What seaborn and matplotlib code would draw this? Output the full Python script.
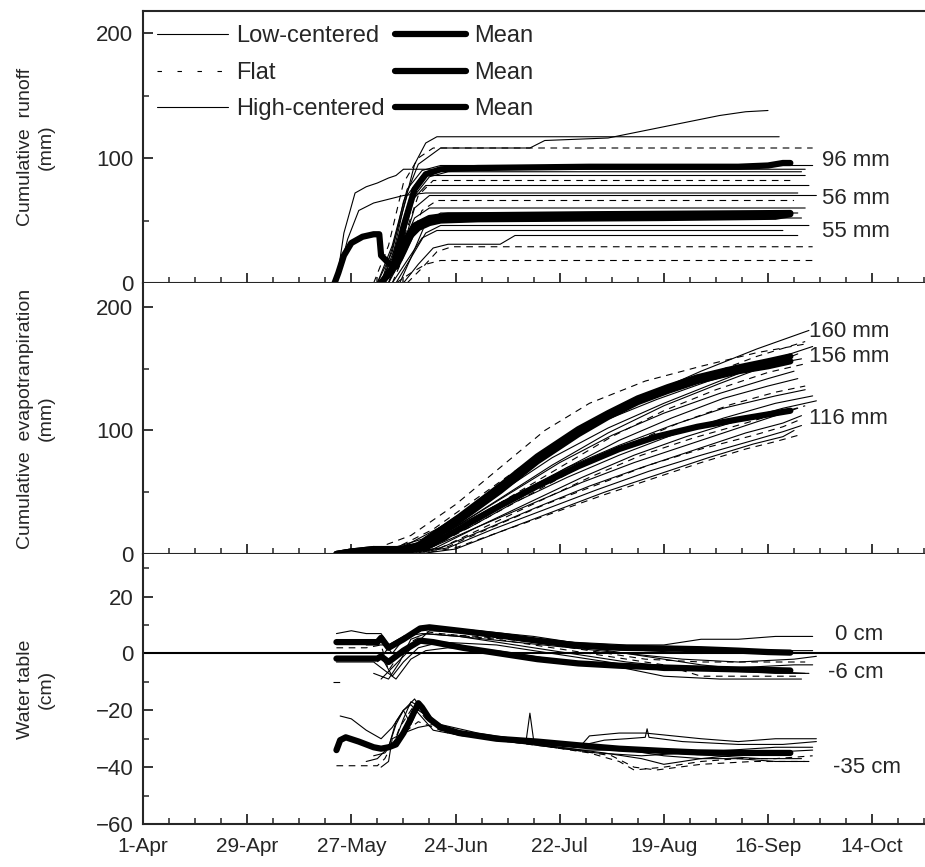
import pandas as pd
import matplotlib
matplotlib.use("Agg")
import matplotlib.pyplot as plt
from matplotlib.lines import Line2D
from matplotlib.ticker import MultipleLocator
import seaborn as sns

# days counted from 1-Apr
date_ticks = [0, 28, 56, 84, 112, 140, 168, 196]
date_labels = ["1-Apr", "29-Apr", "27-May", "24-Jun", "22-Jul", "19-Aug", "16-Sep", "14-Oct"]

# ---- cumulative runoff (mm), one entry per site
runoff_type = ["Low-centered", "High-centered", "Low-centered", "High-centered", "Flat",
               "Low-centered", "High-centered", "Flat", "Low-centered", "High-centered",
               "Flat", "Low-centered", "High-centered", "Low-centered", "High-centered",
               "Flat", "Flat", "Low-centered", "High-centered", "Low-centered"]
runoff_days = [
    [52, 54, 57, 60, 63, 66, 68, 70, 178],
    [52, 55, 58, 62, 66, 70, 76, 176],
    [64, 67, 70, 73, 76, 79, 171],
    [63, 67, 70, 74, 80, 104, 108, 125, 135, 145, 155, 162, 168],
    [62, 66, 70, 74, 78, 180],
    [63, 67, 71, 75, 80, 180],
    [65, 69, 73, 77, 82, 177],
    [66, 70, 74, 78, 174],
    [64, 68, 72, 76, 179],
    [66, 70, 73, 77, 181],
    [67, 71, 75, 79, 175],
    [65, 69, 73, 77, 178],
    [66, 70, 74, 78, 177],
    [68, 72, 76, 80, 179],
    [70, 74, 78, 82, 96, 100, 176],
    [71, 75, 79, 83, 180],
    [68, 72, 76, 80, 181],
    [67, 71, 75, 79, 172],
    [69, 72, 76, 80, 176],
    [64, 67, 71, 75, 178],
]
runoff_vals = [
    [0, 40, 72, 77, 80, 84, 86, 91, 91],
    [0, 35, 58, 64, 67, 70, 72, 72],
    [0, 20, 60, 95, 112, 117, 117],
    [0, 25, 65, 95, 108, 108, 114, 116, 122, 128, 134, 137, 138],
    [0, 30, 80, 100, 108, 108],
    [0, 30, 75, 90, 94, 94],
    [0, 25, 70, 85, 89, 89],
    [0, 35, 70, 82, 82],
    [0, 30, 65, 78, 78],
    [0, 30, 60, 70, 70],
    [0, 28, 58, 66, 66],
    [0, 25, 52, 60, 60],
    [0, 22, 45, 52, 52],
    [0, 20, 40, 46, 46],
    [0, 15, 28, 31, 31, 38, 38],
    [0, 12, 25, 29, 29],
    [0, 8, 15, 18, 18],
    [0, 18, 36, 42, 42],
    [0, 20, 48, 56, 56],
    [0, 28, 70, 86, 86],
]
runoff_mean_days = [
    [64, 67, 70, 73, 76, 80, 90, 120, 160, 168, 172, 174],
    [64, 67, 70, 73, 77, 82, 120, 174],
    [51.5, 52.5, 54, 56, 59, 62, 63.5, 64, 66, 68, 70, 72, 74, 77, 80, 90, 140, 170, 174],
]
runoff_mean_vals = [
    [0, 10, 45, 75, 87, 91, 92, 93, 93, 94, 96, 96],
    [0, 12, 32, 46, 52, 54, 55, 56],
    [0, 8, 22, 32, 37, 39, 39, 22, 16, 13, 25, 38, 44, 48, 50, 51, 52, 53, 55],
]
runoff_labels = ["96 mm", "56 mm", "55 mm"]

# ---- cumulative evapotranspiration (mm)
et_type = ["Low-centered", "Flat", "High-centered", "Low-centered", "High-centered",
           "Flat", "Low-centered", "High-centered", "Flat", "Flat",
           "Low-centered", "High-centered", "Flat", "Low-centered", "High-centered",
           "Flat", "Low-centered", "High-centered", "Flat", "Low-centered"]
et_days = [
    [58, 65, 75, 90, 105, 120, 135, 150, 165, 179],
    [60, 68, 78, 92, 106, 120, 135, 150, 165, 178],
    [62, 70, 80, 95, 110, 125, 140, 155, 170, 180],
    [64, 72, 82, 96, 110, 125, 140, 155, 170, 176],
    [60, 70, 82, 96, 110, 124, 138, 152, 166, 177],
    [66, 74, 84, 98, 112, 126, 140, 154, 168, 178],
    [64, 72, 84, 98, 112, 126, 140, 155, 168, 175],
    [66, 75, 86, 100, 114, 128, 142, 156, 168, 176],
    [68, 76, 88, 102, 116, 130, 144, 158, 170, 178],
    [56, 64, 72, 84, 96, 108, 120, 135, 150, 165, 178],
    [66, 76, 88, 100, 114, 128, 142, 156, 170, 180],
    [68, 78, 90, 104, 118, 132, 146, 160, 172, 181],
    [70, 80, 92, 106, 120, 134, 148, 162, 172, 178],
    [68, 78, 90, 104, 118, 132, 146, 160, 170, 176],
    [70, 80, 92, 106, 120, 134, 148, 162, 172, 177],
    [72, 82, 94, 108, 122, 136, 150, 164, 172, 176],
    [72, 82, 94, 108, 122, 136, 150, 164, 172, 177],
    [74, 84, 96, 110, 124, 138, 152, 164, 172, 175],
    [74, 84, 96, 110, 124, 138, 150, 162, 170, 176],
    [64, 74, 86, 100, 114, 128, 142, 156, 170, 178],
]
et_vals = [
    [0, 3, 12, 42, 75, 104, 128, 148, 166, 181],
    [0, 5, 20, 50, 80, 105, 126, 143, 160, 172],
    [0, 4, 18, 48, 78, 102, 122, 140, 158, 168],
    [0, 3, 18, 45, 72, 98, 120, 138, 155, 162],
    [0, 6, 25, 55, 85, 108, 125, 140, 152, 158],
    [0, 4, 20, 45, 70, 95, 116, 133, 147, 154],
    [0, 3, 22, 48, 74, 96, 114, 130, 142, 148],
    [0, 4, 22, 46, 70, 92, 110, 126, 136, 142],
    [0, 3, 22, 45, 68, 88, 106, 121, 131, 136],
    [0, 6, 15, 40, 70, 100, 122, 140, 152, 163, 170],
    [0, 5, 22, 42, 62, 80, 96, 110, 122, 128],
    [0, 4, 22, 42, 62, 80, 95, 108, 118, 124],
    [0, 5, 22, 42, 62, 80, 94, 106, 115, 120],
    [0, 6, 22, 40, 58, 74, 88, 102, 112, 118],
    [0, 5, 20, 38, 55, 70, 84, 98, 106, 112],
    [0, 6, 22, 40, 56, 72, 85, 96, 103, 108],
    [0, 5, 20, 36, 52, 67, 80, 92, 99, 104],
    [0, 4, 18, 34, 50, 64, 78, 89, 95, 100],
    [0, 5, 18, 33, 48, 62, 74, 85, 91, 96],
    [0, 6, 25, 48, 70, 88, 104, 118, 128, 133],
]
et_mean_days = [
    [52, 56, 62, 66, 69, 74, 85, 96, 106, 117, 125, 133, 141, 149, 160, 168, 174],
    [52, 56, 62, 66, 69, 74, 85, 96, 106, 117, 125, 133, 141, 149, 160, 168, 174],
    [52, 56, 62, 66, 70, 76, 86, 96, 106, 117, 128, 138, 149, 160, 168, 174],
]
et_mean_vals = [
    [0, 2, 4, 4, 4, 7, 30, 55, 79, 101, 114, 126, 135, 143, 151, 156, 160],
    [0, 2, 4, 3, 3, 5, 27, 51, 75, 97, 111, 123, 132, 140, 148, 152, 156],
    [0, 2, 3, 3, 3, 5, 22, 39, 55, 71, 85, 95, 103, 109, 113, 116],
]
et_labels = ["160 mm", "156 mm", "116 mm"]

# ---- water table (cm)
wt_type = ["Low-centered", "High-centered", "Flat", "Low-centered", "High-centered",
           "Flat", "Low-centered", "High-centered", "Flat", "Low-centered",
           "High-centered", "Flat", "Low-centered", "High-centered", "Flat",
           "Low-centered", "High-centered", "High-centered"]
wt_days = [
    [52, 56, 60, 64, 66, 70, 74, 80, 90, 100, 115, 130, 140, 150, 160, 170, 180],
    [52, 60, 64, 67, 70, 74, 78, 90, 105, 120, 135, 150, 165, 180],
    [52, 60, 64, 66, 68, 72, 76, 90, 105, 120, 135, 150, 165, 178],
    [52, 60, 64, 67, 70, 74, 80, 95, 110, 125, 140, 155, 170, 179],
    [52, 62, 65, 68, 72, 76, 82, 95, 110, 125, 140, 155, 170, 177],
    [51, 53],
    [62, 66, 69, 72, 76, 85, 100, 115, 130, 145, 160, 175, 180],
    [64, 67, 70, 73, 77, 90, 105, 120, 135, 150, 165, 178],
    [63, 66, 70, 74, 80, 95, 110, 125, 140, 150, 160, 176],
    [60, 66, 70, 75, 85, 100, 115, 130, 145, 160, 175, 181],
    [53, 56, 60, 64, 67, 70, 73, 76, 80, 88, 96, 103, 104, 105, 112, 119, 124, 130,
     135, 135.5, 136, 145, 160, 172, 181],
    [52, 57, 63, 65, 67, 69, 71, 74, 80, 90, 100, 110, 120, 128, 132, 140, 150, 160, 170, 180],
    [60, 63, 66, 68, 70, 72, 74, 78, 86, 96, 108, 120, 130, 140, 150, 160, 170, 179],
    [62, 65, 68, 70, 72, 75, 80, 90, 100, 112, 124, 134, 140, 150, 165, 180],
    [64, 67, 69, 71, 73, 76, 82, 92, 104, 116, 126, 132, 138, 150, 164, 178],
    [66, 68, 70, 72, 74, 78, 84, 94, 106, 118, 130, 142, 154, 166, 177],
    [64, 66, 67, 70, 74, 78, 86, 98, 110, 122, 134, 146, 158, 170, 180],
    [74, 80, 90, 100, 110, 118, 120, 128, 135, 150, 160, 170, 181],
]
wt_vals = [
    [7, 8, 7, 7, 3, 5, 8, 9, 8, 6, 4, 3, 3, 5, 5, 6, 6],
    [4, 4, 5, 0, 5, 8, 9, 8, 6, 3, 1, 0, 1, 1],
    [2, 2, 3, -6, -2, 4, 7, 6, 4, 1, -2, -3, -3, -3],
    [-2, -2, -1, -8, -3, 2, 4, 3, 0, -3, -6, -6, -7, -7],
    [-3, -3, -6, -9, -2, 1, 2, 1, -2, -4, -8, -9, -9, -9],
    [-10, -10],
    [-7, -9, -3, 5, 7, 6, 3, 0, -3, -5, -5, -4, -4],
    [-9, -5, -1, 3, 8, 7, 5, 2, -1, -4, -6, -7],
    [-3, 2, 6, 8, 7, 5, 2, -1, -4, -8, -8, -8],
    [3, 3, 6, 7, 6, 4, 2, 0, -2, -3, -2, -1],
    [-22, -23, -27, -30, -26, -20, -16, -22, -26, -28, -29.5, -30.5, -21, -30.5, -31.5,
     -32, -30.5, -30, -29.5, -26.5, -29.5, -31, -32, -32, -31],
    [-39.5, -39.5, -39.5, -37, -32, -30, -27, -24, -27, -29, -31, -33, -35, -38, -41,
     -40, -38, -37, -37, -36],
    [-38, -37, -33, -25, -20, -18, -21, -27, -29, -30, -32, -33, -34, -36, -37, -37, -38, -38],
    [-36, -35, -30, -23, -17, -19, -26, -29, -31, -33, -35, -37, -39, -37, -35, -34],
    [-34, -33, -26, -22, -18, -23, -28, -30, -32, -34, -36, -40, -41, -39, -38, -38],
    [-33, -24, -20, -25, -19, -24, -28, -30, -32, -34, -34, -35, -36, -37, -37],
    [-40, -38, -30, -28, -26, -25, -28, -31, -33, -35, -36, -35, -34, -33, -33],
    [-20, -25, -28, -30, -31, -32, -29, -28, -28, -30, -31, -30, -30],
]
wt_mean_days = [
    [52, 58, 63, 64, 66, 70, 74.5, 77, 85, 96, 106, 117, 128, 139, 150, 160, 168, 174],
    [52, 58, 63, 64, 66, 70, 74.5, 78, 86, 96, 106, 117, 128, 139, 150, 160, 168, 174],
    [52, 53, 54.5, 58, 62, 64, 66, 68, 70, 72, 74, 75, 77, 80, 85, 95, 106, 117, 128,
     140, 149, 160, 174],
]
wt_mean_vals = [
    [4, 4, 4, 5.5, 2, 5, 8.8, 9.2, 8, 6.3, 4.5, 2.8, 2, 1.8, 1.5, 1, 0.5, 0.3],
    [-1.8, -1.8, -1.8, -1, -3, 1, 4.5, 4, 2, 0, -2, -3.5, -4.3, -4.9, -5.3, -5.6, -5.8, -6],
    [-34, -30.5, -29.5, -31, -33, -33.5, -33, -32, -28, -23, -17.5, -19, -23, -26, -28,
     -30, -31, -32.3, -33.5, -34.3, -34.8, -35, -35],
]
wt_labels = ["0 cm", "-6 cm", "-35 cm"]


def long_table(days, vals, kinds):
    rows = []
    for i, (d, v, k) in enumerate(zip(days, vals, kinds)):
        for x, y in zip(d, v):
            rows.append((i, k, x, y))
    return pd.DataFrame(rows, columns=["site", "type", "day", "value"])


sns.set_style("ticks")
plt.rcParams["font.family"] = ["Liberation Sans", "DejaVu Sans"]

dash_map = {"Low-centered": "", "Flat": (6, 5), "High-centered": ""}

fig = plt.figure(figsize=(9.25, 8.67), dpi=100)
left, width = 143 / 925, 782 / 925
ax1 = fig.add_axes([left, 1 - 283 / 867, width, 272 / 867])
ax2 = fig.add_axes([left, 1 - 554 / 867, width, 271 / 867])
ax3 = fig.add_axes([left, 1 - 824 / 867, width, 270 / 867])

panels = [
    (ax1, runoff_days, runoff_vals, runoff_type, runoff_mean_days, runoff_mean_vals),
    (ax2, et_days, et_vals, et_type, et_mean_days, et_mean_vals),
    (ax3, wt_days, wt_vals, wt_type, wt_mean_days, wt_mean_vals),
]
for ax, d, v, k, md, mv in panels:
    thin = long_table(d, v, k)
    sns.lineplot(data=thin, x="day", y="value", units="site", estimator=None,
                 style="type", dashes=dash_map, color="k", lw=0.8,
                 legend=False, ax=ax)
    means = long_table(md, mv, ["Mean"] * len(md))
    sns.lineplot(data=means, x="day", y="value", units="site", estimator=None,
                 color="k", lw=4.5, legend=False, ax=ax)

ax3.axhline(0, color="k", lw=1.5)

for ax in (ax1, ax2, ax3):
    ax.set_xlim(0, 210.2)
    ax.set_xticks(date_ticks)
    ax.xaxis.set_minor_locator(MultipleLocator(7))
    ax.tick_params(which="major", direction="in", length=7, width=1.3,
                   labelsize=16, pad=7)
    ax.tick_params(which="minor", direction="in", length=4, width=1.1)
    ax.spines["right"].set_visible(False)
    for s in ("left", "bottom", "top"):
        ax.spines[s].set_linewidth(1.5)
    ax.set_xlabel("")
    ax.set_ylabel("")

ax1.set_xticklabels([])
ax2.set_xticklabels([])
ax3.set_xticklabels(date_labels)
ax3.tick_params(axis="x", labelsize=15, pad=9)

ax1.set_ylim(0, 217.6)
ax1.set_yticks([0, 100, 200])
ax1.yaxis.set_minor_locator(MultipleLocator(50))
ax2.set_ylim(0, 219.4)
ax2.set_yticks([0, 100, 200])
ax2.yaxis.set_minor_locator(MultipleLocator(50))
ax3.set_ylim(-60, 35)
ax3.set_yticks([-60, -40, -20, 0, 20])
ax3.yaxis.set_minor_locator(MultipleLocator(10))
ax2.spines["top"].set_visible(False)
ax3.spines["top"].set_visible(False)

ylabels = ["Cumulative  runoff\n(mm)", "Cumulative  evapotranpiration\n(mm)",
           "Water table\n(cm)"]
for ax, lab in zip((ax1, ax2, ax3), ylabels):
    ax.set_ylabel(lab, fontsize=14, linespacing=1.3)
    ax.yaxis.set_label_coords(-0.1125, 0.5)

# end labels on the right
for lab, (x, y) in zip(runoff_labels, [(182.5, 98), (182.5, 68), (182.5, 41)]):
    ax1.text(x, y, lab, fontsize=16, va="center", ha="left", clip_on=False)
for lab, (x, y) in zip(et_labels, [(179, 180), (179, 160), (179, 110)]):
    ax2.text(x, y, lab, fontsize=16, va="center", ha="left", clip_on=False)
for lab, (x, y) in zip(wt_labels, [(186, 6.7), (184, -6.7), (185.5, -40)]):
    ax3.text(x, y, lab, fontsize=16, va="center", ha="left", clip_on=False)

handles = [
    Line2D([], [], color="k", lw=0.8),
    Line2D([], [], color="k", lw=0.8, dashes=(4, 14)),
    Line2D([], [], color="k", lw=0.8),
    Line2D([], [], color="k", lw=4.5),
    Line2D([], [], color="k", lw=4.5),
    Line2D([], [], color="k", lw=4.5),
]
names = ["Low-centered", "Flat", "High-centered", "Mean", "Mean", "Mean"]
ax1.legend(handles, names, ncol=2, loc="upper left", bbox_to_anchor=(0.0, 1.0),
           frameon=False, fontsize=17, handlelength=3.0, handletextpad=0.35,
           columnspacing=0.42, labelspacing=0.62, borderaxespad=0.2)

fig.savefig("out.png", dpi=100)
